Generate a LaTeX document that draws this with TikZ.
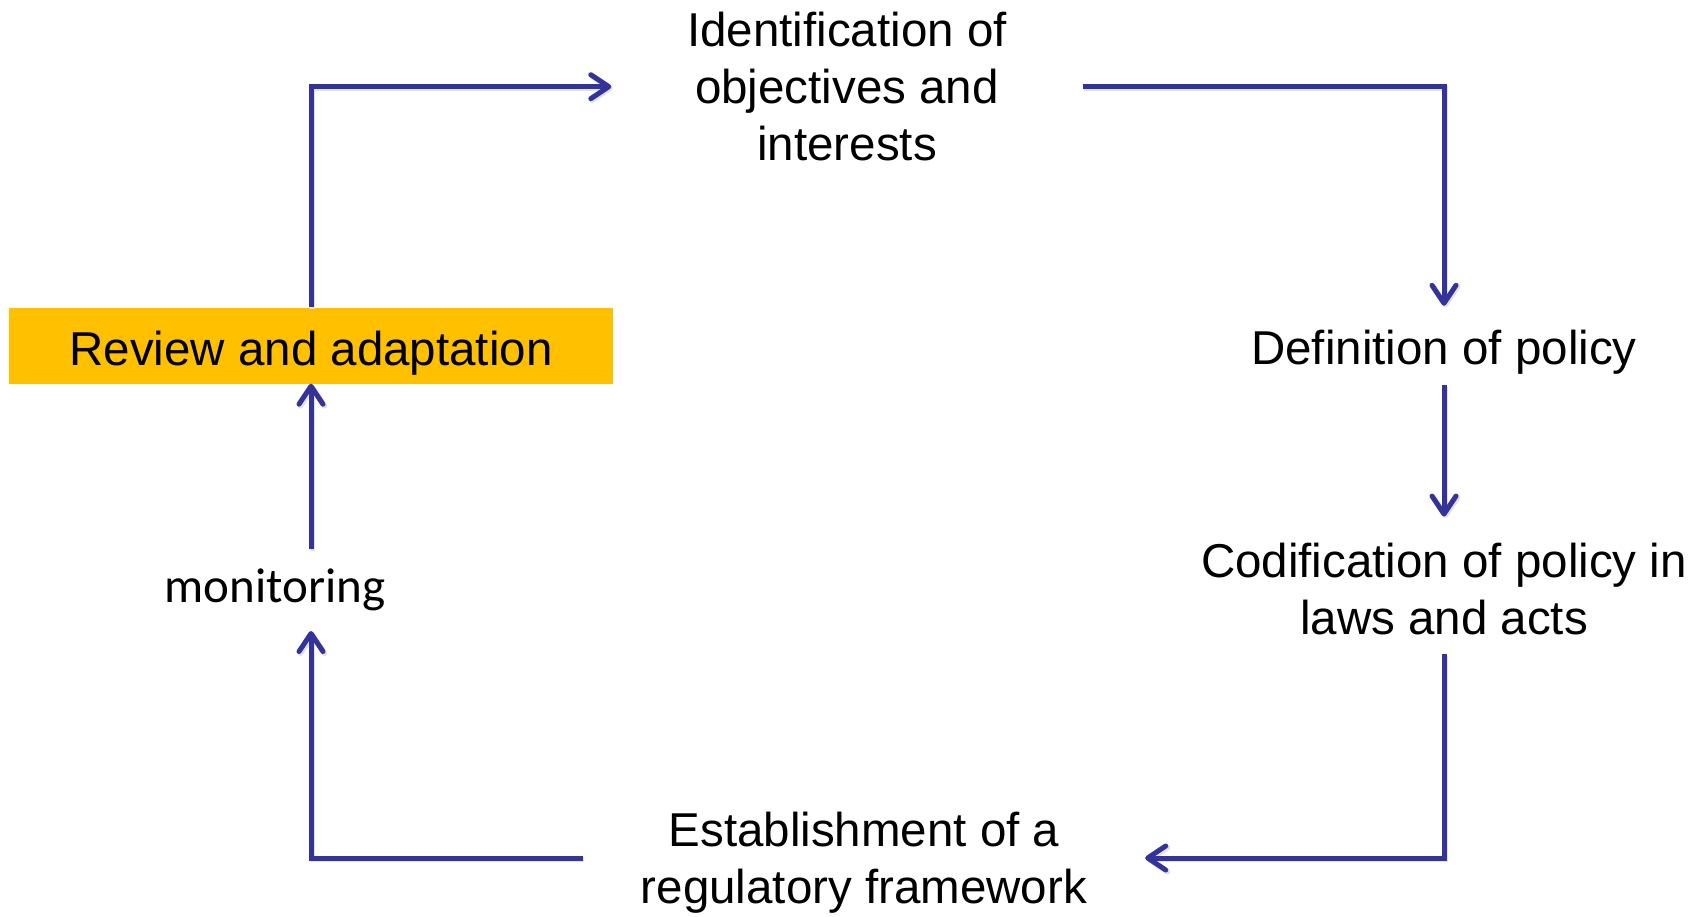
\documentclass[tikz,border=0pt]{standalone}
\usepackage{fontspec}
\setmainfont{Liberation Sans}
\newfontfamily\monifont{Carlito}
\usetikzlibrary{arrows.meta, calc}

\definecolor{flowblue}{RGB}{51,51,153}
\definecolor{boxgold}{RGB}{255,192,0}

\begin{document}
\begin{tikzpicture}[x=1pt, y=-1pt,
	steptext/.style={font=\fontsize{47.5}{57}\selectfont, align=center, inner sep=0pt},
	flow/.style={draw=flowblue, line width=5pt, -{Straight Barb[length=18pt,width=24pt,round]},
		preaction={draw=black!12, line width=5.5pt, transform canvas={shift={(1.5pt,-1.5pt)}}}}]
	\useasboundingbox (0,0) rectangle (1699,916);
	% steps of the cycle
	\node[steptext, fill=boxgold, minimum width=604pt, minimum height=76pt, text height=39pt, text depth=0pt] (rev) at (311,345.5) {Review and adaptation};
	\node[steptext, minimum width=471pt] (ident) at (847,86.7) {Identification of\\objectives and\\interests};
	\node[steptext, minimum height=79pt, text height=37pt, text depth=0pt] (defp) at (1444,345.5) {Definition of policy};
	\node[steptext, minimum height=137.5pt, text height=98pt, text depth=0pt] (codif) at (1444,585.5) {Codification of policy in\\laws and acts};
	\node[steptext, minimum width=562pt, text depth=0pt] (estab) at (864,858) {Establishment of a\\regulatory framework};
	\node[font=\monifont\fontsize{49}{59}\selectfont, inner sep=0pt, minimum height=81.6pt] (moni) at (275,590) {monitoring};
	% connectors
	\draw[flow] (rev.north) |- (ident.west);
	\draw[flow] (ident.east) -| (defp.north);
	\draw[flow] (defp.south) -- (codif.north);
	\draw[flow] (codif.south) |- (estab.east);
	\draw[flow] (estab.west) -| (moni.south -| rev.south);
	\draw[flow] (moni.north -| rev.south) -- (rev.south);
\end{tikzpicture}
\end{document}
